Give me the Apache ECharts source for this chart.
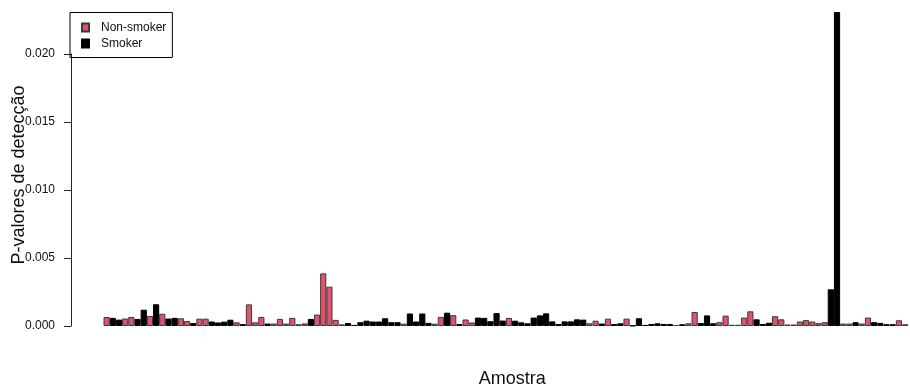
<!DOCTYPE html>
<html>
<head>
<meta charset="utf-8">
<script src="https://cdn.jsdelivr.net/npm/echarts@6/dist/echarts.min.js"></script>
<style>html,body{margin:0;padding:0;background:#fff;}#chart{width:910px;height:385px;}</style>
</head>
<body>
<div id="chart"></div>
<script>
// Detection p-values per sample (bar order as in the reference)
const pValues = [
  0.00066,0.00060,0.00047,0.00055,0.00066,0.00052,0.00120,0.00074,0.00160,0.00090,
  0.00055,0.00060,0.00057,0.00037,0.00022,0.00054,0.00054,0.00033,0.00026,0.00032,
  0.00046,0.00027,0.00014,0.00159,0.00027,0.00067,0.00018,0.00018,0.00052,0.00018,
  0.00060,0.00013,0.00019,0.00052,0.00084,0.00387,0.00289,0.00045,0.00012,0.00022,
  0.00008,0.00028,0.00039,0.00033,0.00033,0.00057,0.00028,0.00028,0.00017,0.00092,
  0.00033,0.00092,0.00023,0.00017,0.00067,0.00098,0.00080,0.00015,0.00048,0.00026,
  0.00062,0.00060,0.00035,0.00095,0.00040,0.00059,0.00039,0.00027,0.00020,0.00062,
  0.00078,0.00093,0.00034,0.00015,0.00034,0.00034,0.00049,0.00047,0.00020,0.00039,
  0.00018,0.00054,0.00015,0.00020,0.00054,0.00003,0.00057,0.00008,0.00015,0.00020,
  0.00015,0.00015,0.00007,0.00013,0.00020,0.00103,0.00022,0.00078,0.00020,0.00028,
  0.00076,0.00009,0.00009,0.00062,0.00108,0.00049,0.00015,0.00024,0.00072,0.00049,
  0.00011,0.00011,0.00033,0.00043,0.00033,0.00021,0.00028,0.00270,0.02310,0.00018,
  0.00018,0.00028,0.00018,0.00062,0.00028,0.00023,0.00013,0.00013,0.00042,0.00013
];
// N = Non-smoker, S = Smoker
const groups = [
  'N','S','S','N','N','S','S','N','S','N',
  'S','S','N','N','S','N','N','S','S','S',
  'S','N','S','N','N','N','S','N','N','N',
  'N','N','N','S','N','N','N','N','N','S',
  'S','S','S','S','S','S','S','S','N','S',
  'S','S','S','N','N','S','N','S','N','N',
  'S','S','S','S','S','N','S','S','S','S',
  'S','S','S','S','S','S','S','S','N','N',
  'S','N','S','S','N','S','S','S','S','S',
  'S','S','N','S','N','N','S','S','S','N',
  'N','N','N','N','N','S','S','S','N','N',
  'N','N','N','N','N','N','N','S','S','N',
  'N','S','N','N','S','S','S','S','N','N'
];
const categories = pValues.map((_, i) => 'Amostra ' + (i + 1));
const yTicks = [0, 0.005, 0.010, 0.015, 0.020];
const legendNames = ['Non-smoker', 'Smoker'];
const groupColors = { 'Non-smoker': '#DF536B', 'Smoker': '#000000' };

const nonSmoker = pValues.map((v, i) => groups[i] === 'N' ? v : '-');
const smoker = pValues.map((v, i) => groups[i] === 'S' ? v : '-');

const FONT = 'Liberation Sans, Arial, sans-serif';
const chart = echarts.init(document.getElementById('chart'), null, { renderer: 'canvas' });
chart.setOption({
  animation: false,
  backgroundColor: '#ffffff',
  legend: {
    data: legendNames,
    orient: 'vertical',
    left: 70, top: 12.5,
    padding: [8, 6, 7, 11],
    itemGap: 2,
    itemWidth: 7, itemHeight: 8,
    icon: 'rect',
    borderColor: '#000', borderWidth: 1,
    textStyle: { fontFamily: FONT, fontSize: 12, color: '#111', lineHeight: 14, padding: [0, 0, 0, 7] }
  },
  grid: [
    { left: 103.5, width: 804.7, top: 12, bottom: 59, outerBoundsMode: 'none', containLabel: false },
    { left: 71, width: 10, top: 54, bottom: 59, outerBoundsMode: 'none', containLabel: false }
  ],
  xAxis: [
    { type: 'category', gridIndex: 0, data: categories, boundaryGap: true,
      axisLine: { show: false }, axisTick: { show: false }, axisLabel: { show: false },
      name: 'Amostra', nameLocation: 'middle', nameGap: 44,
      nameTextStyle: { fontFamily: FONT, fontSize: 18, color: '#111', padding: [0, 0, 0, 13] } },
    { type: 'value', gridIndex: 1, show: false }
  ],
  yAxis: [
    { type: 'value', gridIndex: 0, min: 0, max: 0.0231,
      axisLine: { show: false }, axisTick: { show: false }, axisLabel: { show: false }, splitLine: { show: false },
      name: 'P-valores de detecção', nameLocation: 'middle', nameGap: 75,
      nameTextStyle: { fontFamily: FONT, fontSize: 18, color: '#111', padding: [0, 12, 0, 0] } },
    { type: 'value', gridIndex: 1, min: yTicks[0], max: yTicks[yTicks.length - 1], interval: 0.005,
      axisLine: { show: true, lineStyle: { color: '#222', width: 1 } },
      axisTick: { show: true, length: 7, lineStyle: { color: '#222', width: 1 } },
      axisLabel: { margin: 16, fontFamily: FONT, fontSize: 12, color: '#111',
        formatter: v => v.toFixed(3) },
      splitLine: { show: false } }
  ],
  series: [
    { name: 'Non-smoker', type: 'bar', xAxisIndex: 0, yAxisIndex: 0, data: nonSmoker,
      barGap: '-100%', barCategoryGap: '0%',
      itemStyle: { color: groupColors['Non-smoker'], borderColor: '#3a3a3a', borderWidth: 1 } },
    { name: 'Smoker', type: 'bar', xAxisIndex: 0, yAxisIndex: 0, data: smoker,
      barGap: '-100%', barCategoryGap: '0%',
      itemStyle: { color: groupColors['Smoker'], borderColor: '#000', borderWidth: 1 } }
  ]
});
</script>
</body>
</html>
